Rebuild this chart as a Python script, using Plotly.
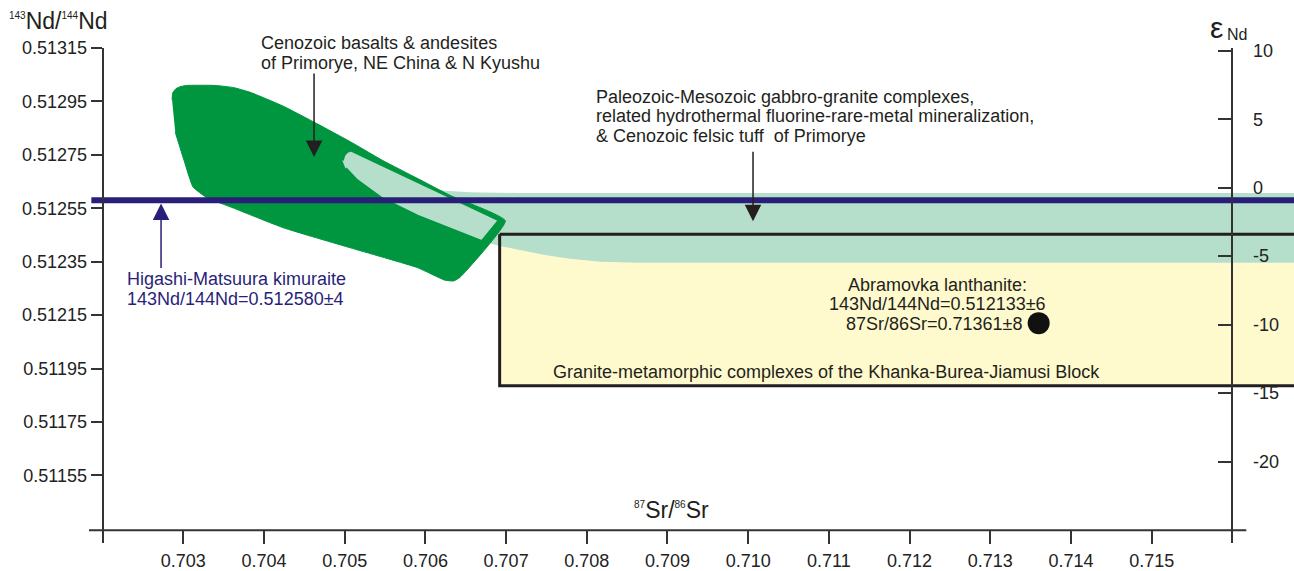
import plotly.graph_objects as go

# ---------------- axes / ticks ----------------
X_TICKS = [0.703, 0.704, 0.705, 0.706, 0.707, 0.708, 0.709, 0.710, 0.711, 0.712, 0.713, 0.714, 0.715]
X_TICKTEXT = ["0.703", "0.704", "0.705", "0.706", "0.707", "0.708", "0.709", "0.710", "0.711", "0.712", "0.713", "0.714", "0.715"]
Y_TICKS = [0.51315, 0.51295, 0.51275, 0.51255, 0.51235, 0.51215, 0.51195, 0.51175, 0.51155]
Y_TICKTEXT = ["0.51315", "0.51295", "0.51275", "0.51255", "0.51235", "0.51215", "0.51195", "0.51175", "0.51155"]
EPS_TICKS = [10, 5, 0, -5, -10, -15, -20]
CHUR = 0.512627

X_MIN, X_MAX = 0.701831, 0.716764
Y_MIN, Y_MAX = 0.511297, 0.513150
X_AXIS_AT = 0.511345          # Nd value where the Sr axis is drawn
LEFT_AXIS_AT = 0.702          # Sr value of the Nd axis
RIGHT_AXIS_AT = 0.716         # Sr value of the eps axis
X_LINE_END = 0.716173

# ---------------- fields ----------------
# Cenozoic basalts & andesites (dark green)
cen_sr = [0.70286, 0.70287, 0.70291, 0.70297, 0.70305, 0.70339, 0.70362, 0.70383, 0.70424, 0.70466,
          0.70507, 0.70547, 0.70590, 0.70630, 0.70699, 0.70643, 0.70635, 0.70624, 0.70590, 0.70507,
          0.70424, 0.70362, 0.70329, 0.70312, 0.70301, 0.70290]
cen_nd = [0.512957, 0.512983, 0.512998, 0.513006, 0.513010, 0.513010, 0.513002, 0.512984, 0.512932, 0.512866,
          0.512799, 0.512729, 0.512662, 0.512599, 0.512503, 0.512292, 0.512278, 0.512281, 0.512328, 0.512402,
          0.512477, 0.512551, 0.512590, 0.512630, 0.512728, 0.512835]

# light inset inside the Cenozoic field
ins_sr = [0.70497, 0.70499, 0.70503, 0.70508, 0.70692, 0.70670, 0.70590, 0.70547, 0.70515, 0.70501]
ins_nd = [0.512729, 0.512750, 0.512763, 0.512768, 0.512506, 0.512425, 0.512521, 0.512584, 0.512654, 0.512699]

# Paleozoic-Mesozoic band
pal_sr = [0.70614, 0.70624, 0.70655, 0.70717, 0.71700, 0.71700, 0.70866, 0.70817, 0.70779, 0.70748,
          0.70717, 0.70692, 0.70674, 0.70643]
pal_nd = [0.512620, 0.512616, 0.512610, 0.512607, 0.512607, 0.512346, 0.512346, 0.512350, 0.512361, 0.512375,
          0.512394, 0.512409, 0.512424, 0.512475]

# Granite-metamorphic complexes box
gr_sr = [0.70692, 0.71700, 0.71700, 0.70692, 0.70692]
gr_nd = [0.512453, 0.512453, 0.511886, 0.511886, 0.512453]

# Higashi-Matsuura kimuraite
KIM_ND = 0.512580
KIM_SR = [0.70186, 0.71700]

# Abramovka lanthanite
LAN_SR = [0.71360]
LAN_ND = [0.512120]

DARK_GREEN = "#009640"
LIGHT_GREEN = "#B5DFCA"
YELLOW = "#FFFACD"
NAVY = "#2A1F78"
INK = "#231F20"
FONT = "Liberation Sans, Arial, sans-serif"

fig = go.Figure()
fig.add_trace(go.Scatter(x=gr_sr, y=gr_nd, fill="toself", fillcolor=YELLOW, mode="lines",
                         line=dict(width=0), hoverinfo="skip"))
fig.add_trace(go.Scatter(x=pal_sr, y=pal_nd, fill="toself", fillcolor=LIGHT_GREEN, mode="lines",
                         line=dict(width=0), hoverinfo="skip"))
fig.add_trace(go.Scatter(x=gr_sr, y=gr_nd, mode="lines", line=dict(color=INK, width=3), hoverinfo="skip"))
fig.add_trace(go.Scatter(x=cen_sr, y=cen_nd, fill="toself", fillcolor=DARK_GREEN, mode="lines",
                         line=dict(width=1, color=DARK_GREEN, shape="spline", smoothing=0.4),
                         hoverinfo="skip"))
fig.add_trace(go.Scatter(x=ins_sr, y=ins_nd, fill="toself", fillcolor=LIGHT_GREEN, mode="lines",
                         line=dict(width=3, color=DARK_GREEN), hoverinfo="skip"))
fig.add_trace(go.Scatter(x=KIM_SR, y=[KIM_ND, KIM_ND], mode="lines", line=dict(color=NAVY, width=6),
                         hoverinfo="skip"))
fig.add_trace(go.Scatter(x=LAN_SR, y=LAN_ND, mode="markers", marker=dict(color="#111111", size=22),
                         hoverinfo="skip"))
fig.add_trace(go.Scatter(x=[None], y=[None], yaxis="y2", mode="markers", hoverinfo="skip"))

# x axis line extending past both vertical axes
fig.add_shape(type="line", xref="x", yref="y", x0=X_MIN, x1=X_LINE_END, y0=X_AXIS_AT, y1=X_AXIS_AT,
              line=dict(color="#333333", width=2))

W, H = 1294, 571
ML, MR, MT, MB = 89, 0, 48, 23
PW, PH = W - ML - MR, H - MT - MB


def P(px, py):
    return (px - ML) / PW, (H - MB - py) / PH


ann = []


def text(px, py, s, xanchor="left", size=18, color=INK):
    x, y = P(px, py)
    ann.append(dict(x=x, y=y, xref="paper", yref="paper", text=s, showarrow=False, xanchor=xanchor,
                    yanchor="middle", font=dict(family=FONT, size=size, color=color)))


text(259, 43, "Cenozoic basalts &amp; andesites")
text(259, 63, "of Primorye, NE China &amp; N Kyushu")
text(594, 97.5, "Paleozoic-Mesozoic gabbro-granite complexes,")
text(594, 117, "related hydrothermal fluorine-rare-metal mineralization,")
text(594, 136.5, "&amp; Cenozoic felsic tuff  of Primorye")
text(125, 281, "Higashi-Matsuura kimuraite", color=NAVY)
text(125, 302, "143Nd/144Nd=0.512580±4", color=NAVY)
text(937, 287, "Abramovka lanthanite:", xanchor="center")
text(937, 307, "143Nd/144Nd=0.512133±6", xanchor="center")
text(1025, 327, "87Sr/86Sr=0.71361±8", xanchor="right")
text(551, 375, "Granite-metamorphic complexes of the Khanka-Burea-Jiamusi Block")

# axis titles
SUP = "<sup><span style='font-size:10px'>{}</span></sup>"
text(7, 21, SUP.format("143") + "Nd/" + SUP.format("144") + "Nd", size=23)
text(632, 515, SUP.format("87") + "Sr/" + SUP.format("86") + "Sr", size=23)
text(1208, 27, "ε", size=30)
text(1225, 34, "Nd", size=16)

# arrows
ann.append(dict(x=0.70462, y=0.512742, xref="x", yref="y", ax=0, ay=-85, text="", showarrow=True,
                arrowhead=2, arrowsize=2.2, arrowwidth=1.5, arrowcolor=INK, standoff=0))
ann.append(dict(x=0.71006, y=0.512501, xref="x", yref="y", ax=0, ay=-71, text="", showarrow=True,
                arrowhead=2, arrowsize=2.2, arrowwidth=1.5, arrowcolor=INK, standoff=0))
ann.append(dict(x=0.702724, y=0.512568, xref="x", yref="y", ax=0, ay=66, text="", showarrow=True,
                arrowhead=2, arrowsize=2.2, arrowwidth=1.5, arrowcolor=NAVY, standoff=0))


def eps(r):
    return (r / CHUR - 1.0) * 1e4


def frac_x(v):
    return (v - X_MIN) / (X_MAX - X_MIN)


def frac_y(v):
    return (v - Y_MIN) / (Y_MAX - Y_MIN)


tickfont = dict(family=FONT, size=18, color="#222222")
fig.update_layout(
    width=W, height=H, margin=dict(l=ML, r=MR, t=MT, b=MB, pad=0),
    paper_bgcolor="white", plot_bgcolor="white", showlegend=False,
    annotations=ann,
    xaxis=dict(range=[X_MIN, X_MAX], showgrid=False, zeroline=False, showline=False,
               anchor="free", position=frac_y(X_AXIS_AT), tickmode="array", tickvals=X_TICKS,
               ticktext=X_TICKTEXT, ticks="outside", ticklen=13, tickwidth=2, tickcolor="#333333",
               tickfont=tickfont, ticklabelstandoff=1),
    yaxis=dict(range=[Y_MIN, Y_MAX], showgrid=False, zeroline=False, showline=True, linewidth=2,
               linecolor="#333333", anchor="free", position=frac_x(LEFT_AXIS_AT), tickmode="array",
               tickvals=Y_TICKS, ticktext=Y_TICKTEXT, ticks="outside", ticklen=11, tickwidth=2,
               tickcolor="#333333", tickfont=tickfont, ticklabelstandoff=0),
    yaxis2=dict(range=[eps(Y_MIN), eps(Y_MAX)], overlaying="y", side="right", anchor="free",
                position=frac_x(RIGHT_AXIS_AT), showgrid=False, zeroline=False, showline=True,
                linewidth=2, linecolor="#333333", tickmode="array", tickvals=EPS_TICKS,
                ticktext=[str(t) for t in EPS_TICKS], ticks="inside", ticklen=13, tickwidth=2,
                tickcolor="#333333", tickfont=tickfont, ticklabelstandoff=16),
)

fig.write_html("out.html")
